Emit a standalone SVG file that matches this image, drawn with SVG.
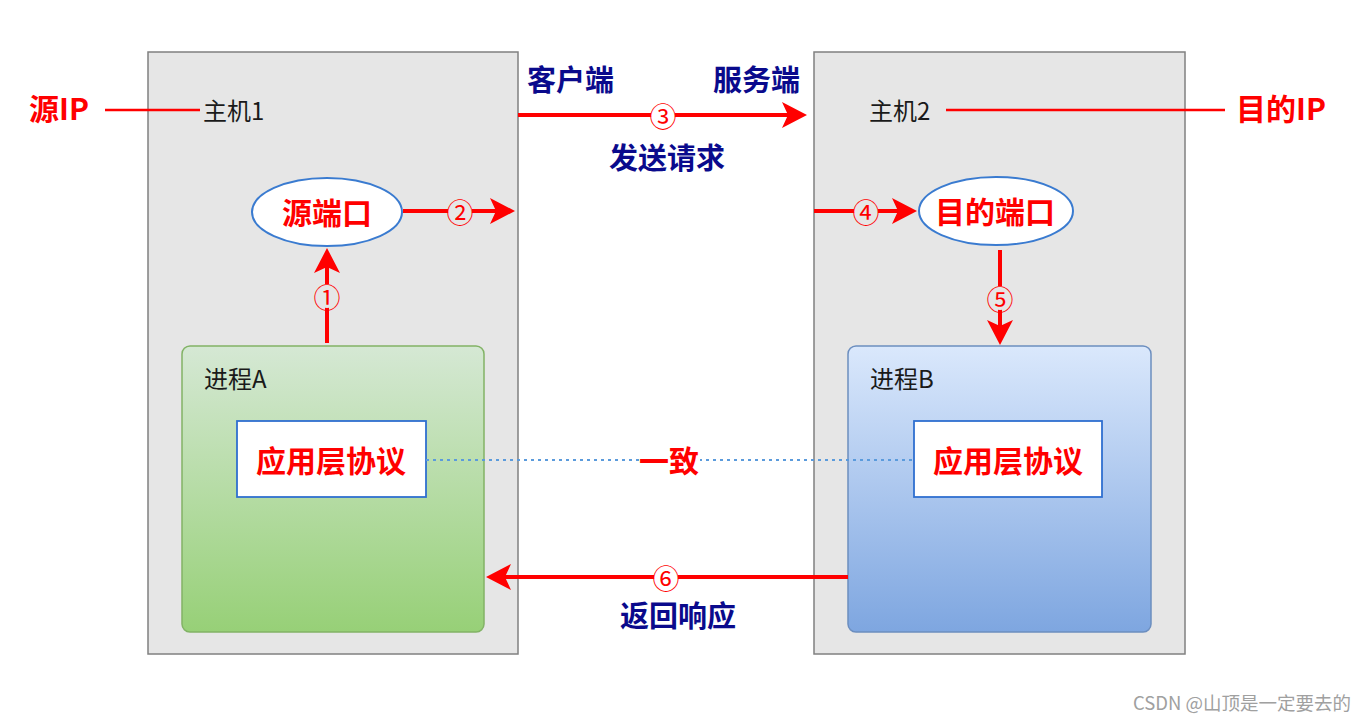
<svg xmlns="http://www.w3.org/2000/svg" width="1365" height="722" viewBox="0 0 1365 722">
<style>
text{font-family:"Noto Sans CJK SC","Liberation Sans",sans-serif;dominant-baseline:central}
.host{fill:#e6e6e6;stroke:#808080;stroke-width:1.5}
.lbl{font-size:24px;fill:#1a1a1a}
.red{font-size:30px;font-weight:bold;fill:#ff0000}
.blue{font-size:29px;font-weight:bold;fill:#0a0a8c}
.num{font-size:27px;fill:#ff0000;text-anchor:middle}
.port{fill:#ffffff;stroke:#3a7bd0;stroke-width:2}
.app{fill:#ffffff;stroke:#2f6fd0;stroke-width:1.8}
.arr{stroke:#ff0000;stroke-width:4;fill:none;marker-end:url(#ah)}
.thin{stroke:#ff0000;stroke-width:2.5;fill:none}
</style>
<defs>
<marker id="ah" markerUnits="userSpaceOnUse" markerWidth="26" markerHeight="26" refX="14" refY="13" orient="auto">
<path d="M0,0 L25,13 L0,26 L6,13 Z" fill="#ff0000"/>
</marker>
<linearGradient id="gA" x1="0" y1="0" x2="0" y2="1"><stop offset="0" stop-color="#d5e8d4"/><stop offset="1" stop-color="#97d077"/></linearGradient>
<linearGradient id="gB" x1="0" y1="0" x2="0" y2="1"><stop offset="0" stop-color="#dae8fc"/><stop offset="1" stop-color="#7ea6e0"/></linearGradient>
</defs>
<rect width="1365" height="722" fill="#ffffff"/>
<g id="host1">
<rect class="host" x="148" y="52" width="370" height="602"/>
<text class="lbl" x="203" y="109">主机1</text>
</g>
<g id="host2">
<rect class="host" x="814" y="52" width="371" height="602"/>
<text class="lbl" x="869" y="109">主机2</text>
</g>
<g id="srcip"><text class="red" x="29" y="107">源IP</text></g>
<g id="dstip"><text class="red" x="1236" y="107">目的IP</text></g>
<g id="client"><text class="blue" x="527" y="78">客户端</text></g>
<g id="server"><text class="blue" x="713" y="78">服务端</text></g>
<g id="procA">
<rect x="182" y="346" width="302" height="286" rx="8" fill="url(#gA)" stroke="#82b366" stroke-width="1.5"/>
<text class="lbl" x="204" y="377">进程A</text>
</g>
<g id="procB">
<rect x="848" y="346" width="303" height="286" rx="8" fill="url(#gB)" stroke="#6c8ebf" stroke-width="1.5"/>
<text class="lbl" x="870" y="377">进程B</text>
</g>
<g id="srcport">
<ellipse class="port" cx="327" cy="212" rx="75" ry="34"/>
<text class="red" x="327" y="211" text-anchor="middle">源端口</text>
</g>
<g id="dstport">
<ellipse class="port" cx="996" cy="211" rx="77" ry="34"/>
<text class="red" x="995" y="210" text-anchor="middle">目的端口</text>
</g>
<g id="appA">
<rect class="app" x="237" y="421" width="189" height="76"/>
<text class="red" x="331" y="459" text-anchor="middle">应用层协议</text>
</g>
<g id="appB">
<rect class="app" x="914" y="421" width="188" height="76"/>
<text class="red" x="1008" y="459" text-anchor="middle">应用层协议</text>
</g>
<g id="connectors">
<line class="thin" x1="105" y1="110" x2="200" y2="110"/>
<line class="thin" x1="946" y1="110" x2="1225" y2="110"/>
<line class="arr" x1="518" y1="115" x2="796" y2="115"/>
<line class="arr" x1="403" y1="211" x2="504" y2="211"/>
<line class="arr" x1="814" y1="211" x2="906" y2="211"/>
<line class="arr" x1="327" y1="343" x2="327" y2="259"/>
<line class="arr" x1="1000" y1="250" x2="1000" y2="334"/>
<line class="arr" x1="848" y1="577" x2="497" y2="577"/>
<line x1="426" y1="460" x2="914" y2="460" stroke="#5b9bdc" stroke-width="2.2" stroke-dasharray="3,4"/>
<rect x="640" y="445" width="60" height="30" fill="#ffffff"/>
<text class="red" x="669" y="459" text-anchor="middle">一致</text>
<circle cx="327" cy="296" r="12" fill="#e6e6e6"/>
<text class="num" x="327" y="296">①</text>
<circle cx="460" cy="211" r="12" fill="#e6e6e6"/>
<text class="num" x="460" y="211">②</text>
<circle cx="663" cy="115" r="12" fill="#ffffff"/>
<text class="num" x="663" y="115">③</text>
<circle cx="866" cy="211" r="12" fill="#e6e6e6"/>
<text class="num" x="866" y="211">④</text>
<circle cx="1000" cy="298" r="12" fill="#e6e6e6"/>
<text class="num" x="1000" y="298">⑤</text>
<circle cx="666" cy="577" r="12" fill="#ffffff"/>
<text class="num" x="666" y="577">⑥</text>
<text class="blue" x="667" y="156" text-anchor="middle">发送请求</text>
<text class="blue" x="678" y="614" text-anchor="middle">返回响应</text>
</g>
<text x="1351" y="702" text-anchor="end" style="font-size:18.5px;fill:#a0a0a0">CSDN @山顶是一定要去的</text>
</svg>
